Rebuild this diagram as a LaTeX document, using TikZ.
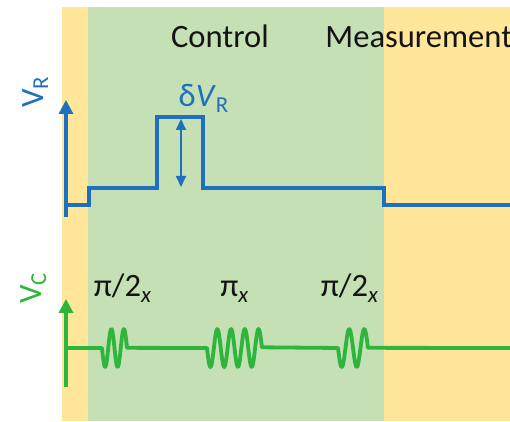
\documentclass[tikz,border=0pt]{standalone}
\usepackage{fontspec}
\setmainfont{Carlito}
\usetikzlibrary{arrows.meta}
\definecolor{ctrlbg}{HTML}{C5E0B4}
\definecolor{measbg}{HTML}{FFE699}
\definecolor{rfline}{HTML}{1F6FBF}
\definecolor{cline}{HTML}{2DB53C}
\definecolor{ink}{HTML}{141414}

\begin{document}
\begin{tikzpicture}[x=0.5pt,y=-0.5pt,
  lbl/.style={inner sep=0pt,text=ink,font=\fontsize{16.3}{19}\selectfont},
  axlbl/.style={lbl,rotate=90,anchor=base},
  sigR/.style={rfline,line width=1.6pt},
  sigC/.style={cline,line width=1.9pt,line join=round},
  axR/.style={rfline,line width=1.6pt,-{Triangle[length=7pt,width=7pt]}},
  axC/.style={cline,line width=1.7pt,-{Triangle[length=7pt,width=7pt]}},
  dbl/.style={rfline,line width=1pt,{Triangle[length=5.5pt,width=5pt]}-{Triangle[length=5.5pt,width=5pt]}}]
\useasboundingbox (0,0) rectangle (510,422);
% phases
\fill[measbg] (62,7) rectangle (510,421);
\fill[ctrlbg] (88,7) rectangle (384,421);
\node[lbl,anchor=base] (ctrl) at (220,48) {Control};
\node[lbl,anchor=base west] (meas) at (325,48) {Measurement};
% readout gate
\node[axlbl,text=rfline] (vr) at (43,92) {V\textsubscript{R}};
\coordinate (r0) at (66,217);
\coordinate (r1) at (66,100);
\draw[axR] (r0) -- (r1);
\draw[sigR] (66,205) -- (89,205) -- (89,188) -- (157,188) -- (157,117)
  -- (203,117) -- (203,188) -- (384,188) -- (384,205) -- (510,205);
\coordinate (d0) at (181,119);
\coordinate (d1) at (181,187);
\draw[dbl] (d0) -- (d1);
\node[lbl,anchor=base,text=rfline] (dvr) at (204,107) {δ\textit{V}\textsubscript{R}};
% control gate
\node[axlbl,text=cline] (vc) at (41,288) {V\textsubscript{C}};
\coordinate (c0) at (66,387);
\coordinate (c1) at (66,299);
\draw[axC] (c0) -- (c1);
\draw[sigC] (66,348) -- (102,348)
  -- plot[domain=0:1,samples=60] ({102+25*\x},{348+19*sin(720*\x)})
  -- (207,348)
  -- plot[domain=0:1,samples=100] ({207+55*\x},{348+19*sin(1440*\x)})
  -- (338,348)
  -- plot[domain=0:1,samples=60] ({338+30*\x},{348+19*sin(720*\x)})
  -- (510,348);
\node[lbl,anchor=base] (p1) at (123,297) {π/2\textsubscript{\textit{x}}};
\node[lbl,anchor=base] (p2) at (235,297) {π\textsubscript{\textit{x}}};
\node[lbl,anchor=base] (p3) at (350,297) {π/2\textsubscript{\textit{x}}};
\end{tikzpicture}
\end{document}
